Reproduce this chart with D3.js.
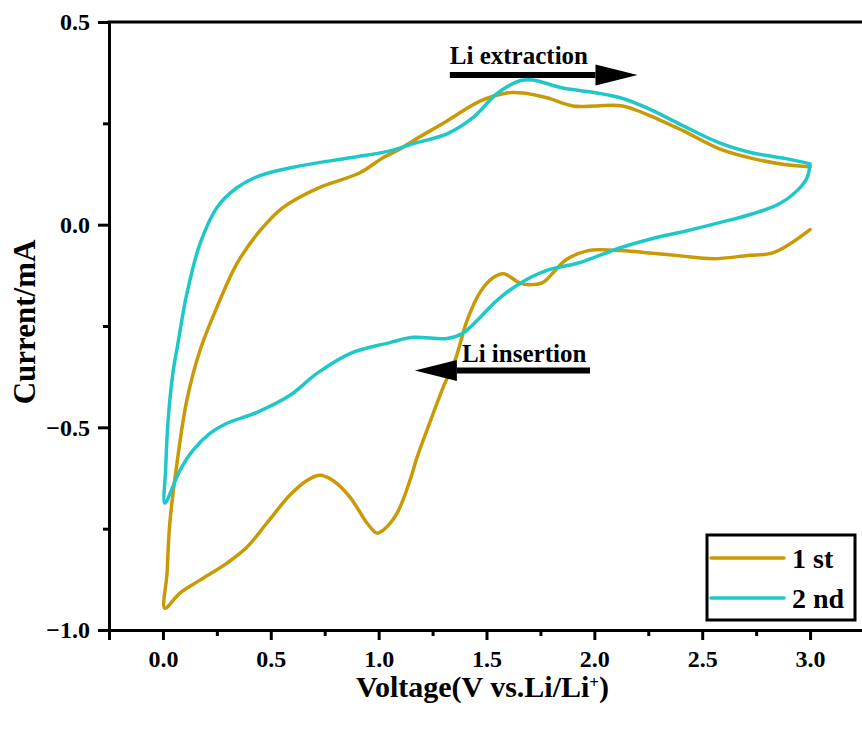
<!DOCTYPE html>
<html>
<head>
<meta charset="utf-8">
<script src="https://cdnjs.cloudflare.com/ajax/libs/d3/7.8.5/d3.min.js"></script>
<style>
    body { margin: 0; background: #fff; }
    svg { display: block; }
</style>
</head>
<body>
<div id="chart"></div>
<script>

// [voltage, current] pairs

// 1st cycle, cathodic scan (3.0 V -> 0 V)
var cycle1Down = [
    [3.0, -0.012], [2.83, -0.069], [2.71, -0.076], [2.55, -0.084], [2.40, -0.077],
    [2.24, -0.069], [2.12, -0.064], [2.04, -0.062], [1.97, -0.064], [1.87, -0.086],
    [1.81, -0.118], [1.76, -0.143], [1.70, -0.148], [1.655, -0.144], [1.58, -0.121],
    [1.53, -0.131], [1.47, -0.167], [1.41, -0.236], [1.354, -0.335], [1.30, -0.40],
    [1.224, -0.507], [1.178, -0.574], [1.145, -0.631], [1.085, -0.712], [1.02, -0.754],
    [0.992, -0.761], [0.946, -0.736], [0.867, -0.672], [0.788, -0.631], [0.728, -0.618],
    [0.668, -0.631], [0.589, -0.667], [0.482, -0.736], [0.389, -0.796], [0.297, -0.835],
    [0.172, -0.877], [0.079, -0.909], [0.009, -0.946]
];

// 1st cycle, anodic scan (0 V -> 3.0 V)
var cycle1Up = [
    [0.009, -0.946], [0.019, -0.860], [0.032, -0.736], [0.065, -0.589], [0.111, -0.433],
    [0.172, -0.310], [0.250, -0.204], [0.343, -0.096], [0.450, -0.015], [0.556, 0.042],
    [0.714, 0.089], [0.913, 0.128], [1.02, 0.165], [1.10, 0.187], [1.16, 0.207],
    [1.317, 0.256], [1.47, 0.305], [1.595, 0.325], [1.669, 0.325], [1.78, 0.313],
    [1.90, 0.293], [2.01, 0.293], [2.13, 0.293], [2.24, 0.273], [2.41, 0.232],
    [2.58, 0.187], [2.735, 0.163], [2.89, 0.148], [3.0, 0.143]
];

// 2nd cycle, cathodic scan
var cycle2Down = [
    [3.0, 0.150], [2.986, 0.116], [2.94, 0.084], [2.86, 0.052], [2.735, 0.027],
    [2.58, 0.005], [2.43, -0.015], [2.27, -0.034], [2.12, -0.057], [1.93, -0.094],
    [1.78, -0.113], [1.655, -0.145], [1.548, -0.187], [1.47, -0.229], [1.39, -0.268],
    [1.317, -0.281], [1.16, -0.278], [1.052, -0.291], [0.867, -0.318], [0.714, -0.367],
    [0.589, -0.421], [0.436, -0.463], [0.297, -0.490], [0.218, -0.515], [0.139, -0.557],
    [0.079, -0.606], [0.009, -0.687]
];

// 2nd cycle, anodic scan
var cycle2Up = [
    [0.009, -0.687], [0.013, -0.60], [0.023, -0.490], [0.046, -0.367], [0.068, -0.298],
    [0.111, -0.170], [0.172, -0.047], [0.250, 0.042], [0.343, 0.091], [0.450, 0.121],
    [0.635, 0.145], [0.867, 0.165], [1.052, 0.182], [1.16, 0.200], [1.317, 0.224],
    [1.437, 0.264], [1.548, 0.323], [1.655, 0.355], [1.715, 0.357], [1.854, 0.337],
    [2.012, 0.325], [2.12, 0.313], [2.244, 0.288], [2.40, 0.247], [2.58, 0.202],
    [2.735, 0.177], [2.89, 0.163], [3.0, 0.150]
];

var xTicks = [0.0, 0.5, 1.0, 1.5, 2.0, 2.5, 3.0];
var xMinorTicks = [-0.25, 0.25, 0.75, 1.25, 1.75, 2.25, 2.75, 3.25];
var yTicks = [-1.0, -0.5, 0.0, 0.5];
var yMinorTicks = [-0.75, -0.25, 0.25];

var seriesNames = ["1 st", "2 nd"];
var seriesColors = ["#c99a06", "#1fc8c8"];

var FONT = "'Liberation Serif', 'Times New Roman', Times, 'DejaVu Serif', serif";

var W = 862, H = 733;
var margin = {left: 109, top: 22, right: -2, bottom: 103};

var svg = d3.select("#chart").append("svg")
    .attr("width", W)
    .attr("height", H);

var x = d3.scaleLinear()
    .domain([-0.25, 3.25])
    .range([margin.left, W - margin.right]);

var y = d3.scaleLinear()
    .domain([-1.0, 0.5])
    .range([H - margin.bottom, margin.top]);

var line = d3.line()
    .x(function (d) { return x(d[0]); })
    .y(function (d) { return y(d[1]); })
    .curve(d3.curveCatmullRom.alpha(0.5));

//*************** curves

var curves = [
    {'points': cycle1Down.concat(cycle1Up.slice(1)), 'color': seriesColors[0]},
    {'points': cycle2Down.concat(cycle2Up.slice(1)), 'color': seriesColors[1]}
];

svg.append("g").selectAll("path")
    .data(curves)
    .enter()
    .append("path")
    .attr("d", function (d) { return line(d.points); })
    .attr("fill", "none")
    .attr("stroke", function (d) { return d.color; })
    .attr("stroke-width", 3.5)
    .attr("stroke-linejoin", "round")
    .attr("stroke-linecap", "round");

//*************** axes

var fmt = d3.format(".1f");

svg.append("g")
    .attr("transform", "translate(0," + y(-1.0) + ")")
    .call(d3.axisBottom(x).tickValues(xTicks).tickFormat(fmt).tickSize(10).tickPadding(10));

svg.append("g")
    .attr("transform", "translate(0," + y(-1.0) + ")")
    .call(d3.axisBottom(x).tickValues(xMinorTicks).tickFormat("").tickSize(6));

svg.append("g")
    .attr("transform", "translate(" + x(-0.25) + ",0)")
    .call(d3.axisLeft(y).tickValues(yTicks).tickFormat(fmt).tickSize(11).tickPadding(8));

svg.append("g")
    .attr("transform", "translate(" + x(-0.25) + ",0)")
    .call(d3.axisLeft(y).tickValues(yMinorTicks).tickFormat("").tickSize(6));

svg.selectAll(".domain").attr("stroke", "#000").attr("stroke-width", 3);
svg.selectAll(".tick line").attr("stroke", "#000").attr("stroke-width", 3);

// top frame line
svg.append("line")
    .attr("x1", x(-0.25) - 1.5)
    .attr("x2", W)
    .attr("y1", y(0.5))
    .attr("y2", y(0.5))
    .attr("stroke", "#000")
    .attr("stroke-width", 3);

// axis titles
var xTitle = svg.append("text")
    .attr("x", (margin.left + 864) / 2 - 4)
    .attr("y", 697)
    .attr("text-anchor", "middle")
    .style("font-size", "30px");

xTitle.append("tspan").text("Voltage(V vs.Li/Li");
xTitle.append("tspan")
    .attr("dy", -9)
    .style("font-size", "17px")
    .text("+");
xTitle.append("tspan")
    .attr("dy", 9)
    .text(")");

svg.append("text")
    .attr("transform", "translate(35," + y(-0.24) + ") rotate(-90)")
    .attr("text-anchor", "middle")
    .style("font-size", "31px")
    .text("Current/mA");

//*************** annotations

function arrow(x0, x1, yv, head) {
    // shaft from x0 towards x1, head drawn at x1
    var dir = x1 > x0 ? 1 : -1;
    var hx = x(x1) - dir * head;
    svg.append("line")
        .attr("x1", x(x0))
        .attr("x2", hx)
        .attr("y1", y(yv))
        .attr("y2", y(yv))
        .attr("stroke", "#000")
        .attr("stroke-width", 6);
    svg.append("path")
        .attr("d", "M" + hx + "," + (y(yv) - 10.5) +
            "L" + x(x1) + "," + y(yv) +
            "L" + hx + "," + (y(yv) + 10.5) + "Z")
        .attr("fill", "#000");
}

arrow(1.33, 2.2, 0.369, 42);
svg.append("text")
    .attr("x", x(1.33))
    .attr("y", 64)
    .style("font-size", "25px")
    .text("Li extraction");

arrow(1.98, 1.168, -0.360, 42);
svg.append("text")
    .attr("x", 462)
    .attr("y", 362)
    .style("font-size", "25px")
    .text("Li insertion");

//*************** legend

var legend = svg.append("g");

legend.append("rect")
    .attr("x", 707)
    .attr("y", 535)
    .attr("width", 148)
    .attr("height", 85)
    .attr("fill", "#fff")
    .attr("stroke", "#000")
    .attr("stroke-width", 3);

var items = legend.selectAll("g.item")
    .data(seriesNames)
    .enter()
    .append("g")
    .attr("class", "item")
    .attr("transform", function (d, i) { return "translate(0," + (558 + i * 40) + ")"; });

items.append("line")
    .attr("x1", 711)
    .attr("x2", 784)
    .attr("stroke", function (d, i) { return seriesColors[i]; })
    .attr("stroke-width", 3.5)
    .attr("stroke-linecap", "round");

items.append("text")
    .attr("x", 792)
    .attr("y", 10)
    .style("font-size", "28px")
    .text(function (d) { return d; });

// same serif bold face everywhere, set on each text itself
svg.selectAll("text")
    .style("font-family", FONT)
    .style("font-weight", "bold")
    .attr("fill", "#000");
svg.selectAll(".tick text").style("font-size", "24px");

</script>
</body>
</html>
